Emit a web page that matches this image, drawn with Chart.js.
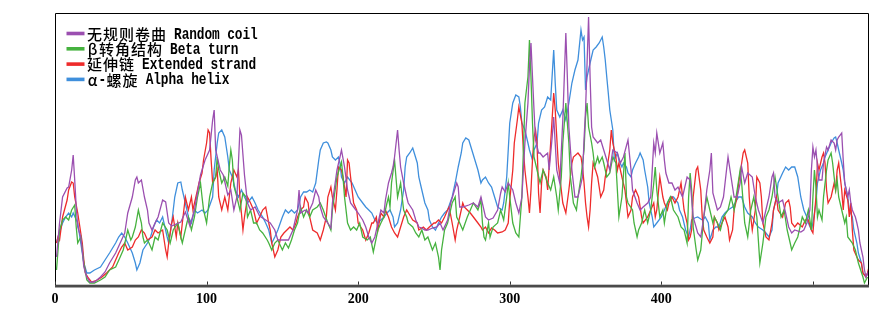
<!DOCTYPE html>
<html>
<head>
<meta charset="utf-8">
<script src="https://cdn.jsdelivr.net/npm/chart.js@4.4.1/dist/chart.umd.min.js"></script>
<style>
  html, body { margin: 0; padding: 0; background: #ffffff; }
  #wrap { width: 896px; height: 312px; position: relative; }
</style>
</head>
<body>
<div id="wrap"><canvas id="c"></canvas></div>
<script>
// Residue position (x) and relative value (y)
const coilPoints = [[1,29],[3,63],[5,89],[8,98],[9,99],[11,116],[12,131],[13,106],[14,79],[15,59],[17,49],[18,36],[19,19],[21,9],[23,4],[26,4],[30,9],[33,14],[36,23],[40,33],[43,43],[46,53],[47,63],[48,73],[51,89],[53,106],[54,109],[55,103],[57,106],[59,89],[61,76],[62,63],[64,56],[66,63],[68,69],[71,86],[73,84],[75,63],[77,60],[83,64],[86,74],[89,60],[92,76],[96,111],[99,126],[102,136],[104,166],[105,176],[106,136],[109,116],[111,111],[114,91],[116,96],[118,76],[120,89],[122,156],[123,151],[125,111],[127,83],[129,76],[132,79],[135,70],[139,66],[142,63],[145,56],[147,46],[151,46],[154,46],[157,56],[160,76],[161,96],[162,73],[165,76],[167,73],[170,83],[172,96],[174,89],[175,79],[177,69],[180,63],[182,58],[183,83],[186,116],[188,129],[189,136],[191,119],[193,96],[195,83],[197,79],[200,73],[203,66],[205,59],[207,49],[209,43],[211,49],[215,76],[217,73],[218,86],[220,103],[222,113],[223,119],[224,129],[226,156],[227,136],[228,119],[230,103],[232,89],[233,83],[236,76],[238,66],[240,59],[242,58],[244,56],[246,56],[249,58],[252,59],[254,63],[256,56],[259,66],[261,83],[263,93],[265,103],[266,99],[267,79],[269,79],[273,81],[276,83],[279,79],[281,89],[284,69],[286,66],[289,68],[292,76],[294,93],[295,99],[297,94],[299,103],[302,96],[304,83],[306,73],[308,89],[310,143],[312,183],[313,219],[314,243],[315,209],[316,176],[317,146],[319,133],[320,133],[322,129],[325,133],[326,116],[328,149],[329,169],[331,116],[333,103],[335,166],[337,253],[338,209],[339,159],[341,116],[343,89],[345,89],[348,109],[349,146],[350,176],[352,269],[353,209],[354,159],[355,149],[358,143],[360,146],[362,136],[364,126],[366,116],[368,136],[371,133],[373,123],[375,129],[378,146],[380,116],[381,96],[384,83],[386,76],[388,79],[391,83],[393,89],[395,143],[396,133],[397,153],[399,133],[401,143],[402,126],[403,113],[405,103],[407,103],[409,96],[411,99],[414,89],[417,109],[419,106],[421,69],[424,53],[426,49],[428,69],[430,96],[432,116],[433,133],[434,93],[437,76],[439,79],[441,89],[443,116],[444,129],[446,109],[448,89],[450,89],[452,103],[453,119],[455,103],[457,113],[460,109],[462,89],[464,76],[467,63],[469,76],[471,89],[473,109],[474,113],[475,89],[477,83],[480,86],[482,73],[484,59],[486,53],[488,56],[492,54],[494,56],[496,63],[498,76],[499,116],[500,139],[501,129],[502,136],[503,119],[504,106],[506,106],[507,123],[509,139],[510,136],[512,146],[514,143],[515,136],[516,146],[517,149],[519,153],[520,126],[521,103],[523,89],[524,96],[525,83],[526,76],[528,69],[529,63],[530,56],[531,43],[533,29],[534,16],[535,9],[537,16]];

const turnPoints = [[1,16],[2,36],[3,56],[5,66],[7,69],[9,66],[11,76],[13,81],[14,59],[15,43],[17,49],[18,36],[19,23],[21,6],[23,3],[26,3],[30,6],[33,9],[36,16],[40,19],[43,29],[45,36],[47,49],[48,56],[50,46],[51,49],[53,59],[55,76],[56,69],[57,63],[58,49],[59,43],[61,46],[62,43],[64,36],[66,49],[68,46],[71,63],[74,56],[76,43],[78,56],[81,63],[83,49],[84,43],[87,63],[88,69],[90,56],[92,69],[94,89],[96,103],[97,89],[98,76],[100,63],[102,89],[104,103],[106,109],[107,129],[108,116],[110,103],[112,109],[114,100],[115,120],[116,136],[117,126],[118,100],[120,89],[122,76],[124,93],[126,89],[127,69],[129,76],[131,63],[133,63],[135,56],[137,53],[140,46],[141,43],[143,36],[145,43],[147,46],[150,36],[152,43],[154,38],[156,46],[158,56],[160,63],[162,79],[164,69],[166,76],[168,69],[170,76],[173,79],[175,83],[177,76],[180,63],[182,56],[183,76],[186,109],[188,119],[189,124],[190,109],[191,89],[193,63],[195,56],[197,59],[199,56],[201,63],[203,49],[206,46],[208,49],[210,34],[213,56],[215,63],[217,69],[219,83],[220,89],[221,79],[222,103],[224,126],[226,89],[228,103],[229,89],[230,76],[232,69],[233,63],[236,59],[238,53],[240,49],[242,56],[244,46],[246,49],[249,36],[251,43],[253,29],[254,16],[255,36],[257,56],[259,63],[262,83],[264,89],[265,69],[267,63],[269,56],[272,69],[274,76],[276,83],[279,76],[281,86],[282,63],[283,49],[284,46],[286,63],[287,49],[289,59],[292,63],[294,76],[296,66],[298,89],[299,103],[300,89],[302,63],[304,53],[306,49],[308,89],[309,136],[310,183],[312,209],[313,246],[314,209],[315,163],[316,129],[318,116],[320,103],[322,116],[325,103],[327,96],[329,109],[331,89],[332,76],[334,109],[335,143],[337,183],[339,143],[340,109],[342,83],[344,76],[345,89],[347,109],[349,136],[350,169],[351,183],[352,159],[354,143],[355,133],[356,119],[358,129],[359,123],[361,129],[362,123],[364,109],[366,113],[368,129],[370,123],[371,96],[372,69],[374,89],[376,133],[377,89],[378,83],[381,76],[382,63],[384,49],[385,56],[387,63],[389,76],[391,63],[393,76],[395,103],[396,119],[397,96],[399,69],[401,76],[402,63],[404,83],[406,89],[408,76],[411,69],[413,59],[415,56],[417,43],[418,89],[419,113],[420,96],[421,59],[423,36],[424,26],[426,36],[428,69],[430,89],[432,76],[434,63],[435,69],[437,63],[439,56],[441,69],[444,76],[446,89],[448,76],[450,96],[452,116],[453,103],[455,63],[457,49],[459,76],[461,89],[463,69],[465,23],[467,43],[469,69],[471,76],[473,89],[475,109],[477,89],[479,69],[481,76],[483,56],[485,43],[486,36],[488,43],[490,49],[493,69],[495,63],[497,76],[499,56],[500,89],[501,116],[502,99],[503,69],[504,76],[506,66],[507,89],[509,116],[510,126],[512,133],[513,123],[514,109],[515,96],[516,106],[517,89],[519,76],[521,63],[522,69],[523,49],[526,43],[528,36],[530,23],[533,9],[534,3],[536,9]];

const strandPoints = [[1,43],[2,49],[3,46],[5,69],[8,86],[9,96],[11,104],[12,103],[13,89],[15,73],[16,63],[18,43],[19,26],[20,13],[22,8],[24,4],[28,6],[31,9],[34,13],[38,19],[40,26],[42,33],[44,39],[46,43],[48,36],[51,39],[53,46],[55,49],[57,56],[59,53],[61,46],[64,49],[66,56],[68,53],[71,56],[73,36],[74,29],[75,43],[77,63],[78,69],[80,49],[81,63],[83,49],[84,63],[86,89],[88,76],[90,89],[91,76],[94,96],[95,103],[97,113],[98,126],[100,143],[101,156],[102,153],[103,126],[104,103],[106,109],[107,116],[108,89],[110,76],[112,89],[114,76],[116,103],[118,116],[120,109],[121,116],[122,89],[124,56],[125,69],[127,89],[129,83],[131,76],[133,63],[135,69],[137,76],[139,79],[141,63],[142,56],[143,43],[145,29],[147,36],[149,49],[151,53],[153,56],[155,59],[157,56],[159,63],[160,69],[162,76],[164,79],[165,89],[167,83],[168,69],[170,56],[173,53],[175,46],[177,56],[179,69],[180,89],[182,99],[183,89],[185,76],[186,96],[187,119],[189,116],[190,109],[192,89],[193,126],[194,123],[195,109],[197,83],[199,76],[200,63],[203,56],[205,46],[207,53],[209,63],[210,63],[212,69],[213,56],[215,73],[217,69],[218,76],[220,69],[222,59],[224,53],[226,49],[228,59],[230,69],[232,76],[234,71],[236,66],[239,63],[240,56],[243,59],[245,56],[247,59],[250,63],[251,63],[253,66],[255,63],[257,69],[259,76],[260,79],[262,63],[264,46],[265,56],[267,69],[269,83],[270,79],[272,76],[274,73],[276,69],[279,63],[281,59],[282,56],[284,59],[286,53],[288,58],[290,56],[292,53],[295,54],[297,56],[299,63],[300,86],[302,116],[303,143],[305,166],[306,179],[308,163],[309,136],[310,116],[312,89],[313,73],[314,96],[315,126],[316,149],[317,156],[318,143],[319,93],[320,73],[321,103],[322,116],[324,109],[325,96],[327,143],[329,193],[330,176],[331,149],[332,123],[334,96],[335,83],[337,73],[339,96],[341,123],[342,129],[345,133],[347,129],[348,119],[349,103],[350,83],[351,69],[352,59],[353,76],[354,103],[355,123],[356,119],[358,109],[360,89],[362,96],[363,109],[364,116],[366,136],[367,156],[368,143],[370,129],[371,116],[372,123],[374,109],[376,96],[377,83],[378,69],[380,76],[381,89],[383,96],[385,89],[387,69],[388,63],[391,69],[393,76],[395,83],[396,69],[397,76],[399,109],[401,89],[402,83],[404,76],[405,83],[407,89],[409,83],[411,89],[413,103],[415,76],[417,63],[418,46],[419,49],[420,56],[421,89],[423,116],[424,119],[426,96],[427,69],[428,56],[430,49],[432,43],[434,49],[435,69],[437,63],[438,56],[440,63],[442,69],[444,59],[445,46],[447,56],[448,76],[450,89],[451,103],[453,123],[454,133],[455,136],[457,123],[458,89],[459,69],[460,56],[462,76],[463,109],[465,103],[466,89],[467,63],[469,49],[471,46],[473,63],[474,76],[476,89],[477,76],[480,69],[482,83],[484,86],[485,79],[486,63],[488,59],[490,63],[493,59],[495,66],[497,66],[499,56],[500,53],[502,89],[503,123],[504,116],[506,129],[507,133],[508,123],[509,96],[510,83],[512,89],[514,103],[515,96],[516,116],[517,123],[519,96],[520,76],[521,96],[523,86],[524,69],[525,83],[526,56],[527,36],[529,29],[530,26],[532,23],[533,13],[535,9],[536,13],[537,19]];

const helixPoints = [[1,43],[2,49],[5,63],[7,69],[9,73],[11,69],[12,73],[15,63],[17,43],[19,23],[21,13],[23,13],[26,16],[30,19],[33,26],[36,33],[40,43],[42,49],[44,53],[46,49],[48,43],[51,33],[53,23],[54,16],[56,23],[58,36],[61,43],[63,49],[65,59],[67,66],[69,63],[71,69],[74,49],[75,43],[77,63],[79,89],[81,103],[83,104],[84,96],[86,83],[88,69],[90,63],[92,76],[94,73],[97,76],[99,73],[101,76],[104,89],[105,116],[107,143],[108,153],[110,156],[112,149],[114,129],[115,116],[117,109],[119,96],[121,89],[123,96],[125,89],[127,83],[130,89],[132,83],[134,76],[137,69],[139,63],[141,56],[143,43],[145,49],[147,56],[150,69],[152,76],[154,73],[156,76],[158,73],[160,76],[162,89],[164,94],[166,94],[168,96],[170,94],[172,103],[174,126],[175,136],[177,143],[179,144],[180,143],[182,136],[183,129],[185,126],[187,129],[188,123],[189,109],[191,103],[193,109],[196,103],[198,96],[200,89],[203,83],[205,79],[207,76],[209,73],[211,66],[213,63],[215,66],[217,69],[219,73],[221,76],[223,69],[224,59],[226,63],[228,76],[230,96],[231,119],[232,129],[234,133],[236,138],[237,133],[239,123],[240,109],[242,96],[244,83],[246,76],[247,66],[249,59],[251,56],[253,63],[255,69],[257,73],[259,76],[262,89],[264,103],[266,119],[268,133],[269,143],[271,148],[273,146],[275,136],[277,126],[279,116],[281,103],[282,106],[284,109],[286,103],[288,99],[290,89],[292,79],[295,76],[296,83],[298,109],[299,136],[300,163],[302,183],[304,191],[306,189],[307,179],[308,163],[310,156],[312,143],[313,136],[315,126],[316,136],[318,143],[319,163],[321,176],[323,179],[325,189],[327,186],[329,236],[330,203],[331,176],[333,169],[335,176],[337,166],[339,183],[341,203],[343,216],[345,226],[347,256],[348,246],[349,249],[350,196],[351,209],[353,223],[355,236],[357,239],[359,243],[361,249],[362,239],[363,226],[364,209],[365,193],[366,176],[368,156],[369,126],[371,133],[372,126],[374,119],[375,123],[377,119],[378,113],[380,109],[381,116],[383,123],[385,129],[386,133],[388,126],[389,116],[391,99],[392,83],[394,69],[395,59],[397,63],[400,69],[402,76],[404,83],[406,89],[408,89],[411,83],[412,76],[414,69],[416,56],[418,49],[419,56],[420,66],[422,68],[424,69],[427,66],[429,69],[431,63],[432,46],[434,56],[436,59],[438,59],[440,69],[442,73],[444,76],[447,79],[449,84],[451,89],[453,89],[455,79],[457,73],[460,69],[462,63],[464,59],[467,56],[469,53],[471,49],[473,56],[474,76],[476,89],[477,103],[480,113],[482,119],[484,116],[486,119],[488,119],[490,109],[492,89],[494,76],[496,69],[497,63],[499,56],[500,63],[502,83],[503,103],[505,116],[507,123],[508,129],[510,136],[512,143],[514,148],[515,149],[516,143],[517,136],[519,123],[520,116],[521,103],[523,89],[524,76],[526,69],[527,56],[529,43],[530,33],[532,23],[533,13],[535,9],[537,16]];

const seriesNames = ['无规则卷曲 Random coil', 'β转角结构 Beta turn', '延伸链 Extended strand', 'α-螺旋 Alpha helix'];
const seriesColors = ['#9b4fb0', '#46b23f', '#ee2b2b', '#3f8fdc'];
const xTicks = [0, 100, 200, 300, 400, 500];
const xTickLabels = ['0', '100', '200', '300', '400', ''];
const xMax = 537;
const yMax = 272;

const allSeries = [coilPoints, turnPoints, strandPoints, helixPoints];

const framePlugin = {
  id: 'frame',
  afterDraw(chart) {
    const { ctx, chartArea: a } = chart;
    const xs = chart.scales.x;
    ctx.save();
    ctx.strokeStyle = '#000';
    ctx.lineWidth = 1;
    ctx.beginPath();
    ctx.moveTo(a.left + 0.5, a.bottom);
    ctx.lineTo(a.left + 0.5, a.top - 0.5);
    ctx.lineTo(a.right - 0.5, a.top - 0.5);
    ctx.lineTo(a.right - 0.5, a.bottom);
    ctx.stroke();
    ctx.fillStyle = '#4a4a4a';
    ctx.fillRect(a.left, a.bottom - 1.3, a.right - a.left, 2.8);
    ctx.strokeStyle = '#333';
    ctx.lineWidth = 1;
    xTicks.forEach(v => {
      const px = Math.round(xs.getPixelForValue(v)) + 0.5;
      ctx.beginPath();
      ctx.moveTo(px, a.bottom - 1.3);
      ctx.lineTo(px, a.bottom - 4.5);
      ctx.stroke();
    });
    ctx.restore();
  }
};

const legendPlugin = {
  id: 'insideLegend',
  afterDraw(chart) {
    const { ctx, chartArea: a } = chart;
    ctx.save();
    chart.data.datasets.forEach((ds, i) => {
      const y = a.top + 19.5 + i * 15.3;
      const x0 = a.left + 11.5;
      ctx.strokeStyle = ds.borderColor;
      ctx.lineWidth = 3.6;
      ctx.beginPath();
      ctx.moveTo(x0, y);
      ctx.lineTo(x0 + 18, y);
      ctx.stroke();
      ctx.fillStyle = '#000';
      ctx.textBaseline = 'middle';
      ctx.textAlign = 'center';
      let x = x0 + 20;
      for (const ch of ds.label) {
        const code = ch.codePointAt(0);
        let w;
        if (code >= 0x2E80) {
          w = 16;
          ctx.font = '500 15px "Noto Sans CJK SC"';
          ctx.fillText(ch, x + w / 2, y + 0.5);
        } else if (code >= 0x370 && code < 0x400) {
          w = 12;
          ctx.font = '500 15px "Noto Sans CJK SC"';
          ctx.fillText(ch, x + w / 2, y + 0.5);
        } else {
          w = 7.6;
          if (ch !== ' ') {
            ctx.save();
            ctx.translate(x + w / 2, y + 1);
            ctx.scale(0.8, 1);
            ctx.font = 'bold 16px "Liberation Mono"';
            ctx.fillText(ch, 0, 0);
            ctx.restore();
          }
        }
        x += w;
      }
    });
    ctx.restore();
  }
};

new Chart(document.getElementById('c'), {
  type: 'line',
  data: {
    datasets: allSeries.map((pts, i) => ({
      label: seriesNames[i],
      data: pts.map(p => ({ x: p[0], y: p[1] })),
      borderColor: seriesColors[i],
      backgroundColor: seriesColors[i],
      borderWidth: 1.3,
      pointRadius: 0,
      tension: 0,
      fill: false
    }))
  },
  options: {
    responsive: true,
    maintainAspectRatio: false,
    animation: false,
    devicePixelRatio: 1,
    layout: { padding: { left: 55, right: 27, top: 14, bottom: 0 } },
    plugins: { legend: { display: false }, tooltip: { enabled: false } },
    scales: {
      x: {
        type: 'linear',
        min: 0,
        max: xMax,
        grid: { display: false },
        border: { display: false },
        afterBuildTicks: (s) => { s.ticks = xTicks.map(v => ({ value: v })); },
        afterFit: (s) => { s.height = 26; },
        ticks: {
          autoSkip: false,
          maxRotation: 0,
          padding: -3,
          color: '#000',
          font: { family: 'Liberation Serif', size: 14, weight: 'bold' },
          callback: (v) => { const k = xTicks.indexOf(v); return k >= 0 ? xTickLabels[k] : ''; }
        }
      },
      y: { display: false, min: 0, max: yMax }
    }
  },
  plugins: [framePlugin, legendPlugin]
});
</script>
</body>
</html>
